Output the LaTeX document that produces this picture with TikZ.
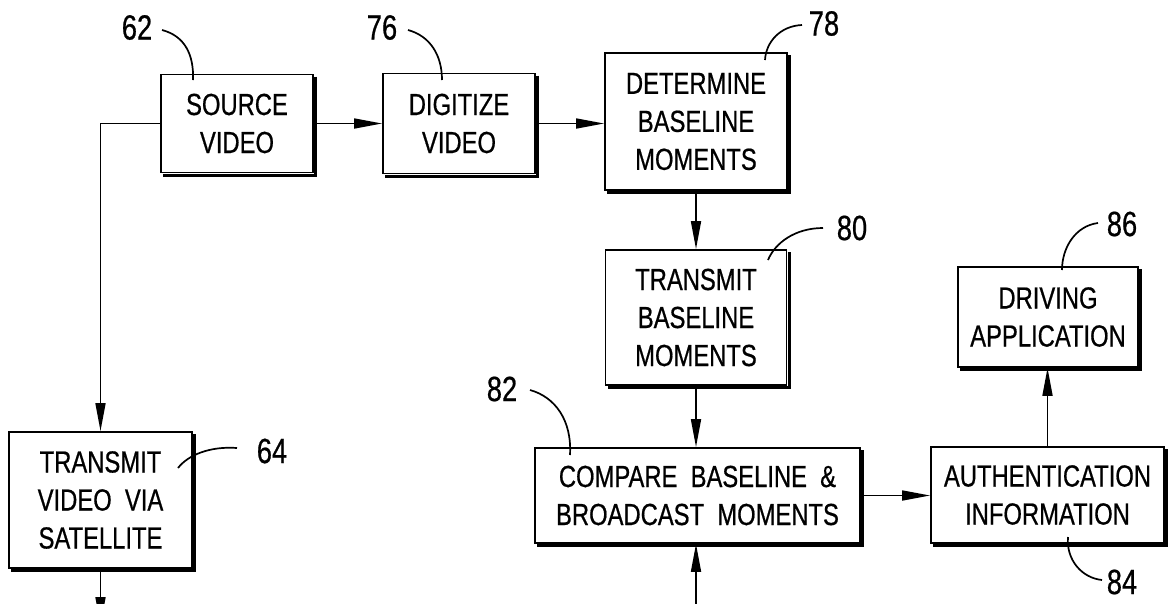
\documentclass[tikz,border=0pt]{standalone}
\usepackage{fontspec}
\setmainfont[FakeStretch=0.78,FakeBold=0.6]{Liberation Sans}
\usetikzlibrary{arrows.meta}
\tikzset{
  blk/.style={draw, fill=white, line width=1.8pt, inner sep=0pt, align=center,
    font=\fontsize{30.5}{38}\selectfont},
  arr/.style={line width=1.7pt, -{Triangle[length=28pt,width=10pt]}},
  lbl/.style={inner sep=0pt, font=\fontsize{35}{40}\selectfont},
  lead/.style={line width=1.7pt},
  shd/.style={line width=3pt}
}
\begin{document}
\begin{tikzpicture}[x=1pt,y=-1pt]
\clip (0,0) rectangle (1169,603);
\fill[white] (0,0) rectangle (1169,603);
% boxes
\node[blk, minimum width=152, minimum height=98] (src) at (237,123.5) {SOURCE\\VIDEO};
\node[blk, minimum width=152, minimum height=100] (dig) at (459,123.5) {DIGITIZE\\VIDEO};
\node[blk, minimum width=182, minimum height=137] (det) at (696,121.5) {DETERMINE\\BASELINE\\MOMENTS};
\node[blk, minimum width=181, minimum height=135] (tbm) at (696,317.5) {TRANSMIT\\BASELINE\\MOMENTS};
\node[blk, minimum width=325, minimum height=95] (cmp) at (697.5,495.5) {COMPARE\ \ BASELINE\ \ \&\\BROADCAST\ \ MOMENTS};
\node[blk, minimum width=233, minimum height=96] (auth) at (1047.5,495) {AUTHENTICATION\\INFORMATION};
\node[blk, minimum width=180, minimum height=100] (drv) at (1048,317) {DRIVING\\APPLICATION};
\node[blk, minimum width=183, minimum height=136] (tvs) at (100.5,500) {TRANSMIT\\VIDEO\ \ VIA\\SATELLITE};
% heavy right and bottom edges (shadow)
\foreach \b in {src,dig,det,tbm,cmp,auth,drv,tvs}{
  \draw[shd] ([shift={(2,3)}]\b.north east) -- ([shift={(2,2)}]\b.south east) -- ([shift={(3,2)}]\b.south west);
}
% free ends
\coordinate (tvsout) at (100.5,625);
\coordinate (cmpin) at (696,625);
% connectors
\draw[arr] (src.east) -- (src.east -| dig.west);
\draw[arr] (dig.east) -- (dig.east -| det.west);
\draw[arr] (det.south) -- (det.south |- tbm.north);
\draw[arr] (tbm.south) -- (tbm.south |- cmp.north);
\draw[arr] (cmp.east) -- (cmp.east -| auth.west);
\draw[arr] (auth.north) -- (auth.north |- drv.south);
\draw[arr] (src.west) -| (tvs.north);
\draw[arr] (tvs.south) -- (tvsout);
\draw[arr] (cmpin) -- (cmpin |- cmp.south);
% reference labels
\node[lbl] (l62) at (137,27.5) {62};
\node[lbl] (l76) at (382,27.5) {76};
\node[lbl] (l78) at (824,23.5) {78};
\node[lbl] (l80) at (852,228) {80};
\node[lbl] (l82) at (502,389) {82};
\node[lbl] (l86) at (1122,224) {86};
\node[lbl] (l84) at (1122,582) {84};
\node[lbl] (l64) at (272,451) {64};
% leader lines
\coordinate (a62) at (162,30);   \coordinate (b62) at (193,80);
\coordinate (a76) at (408,30);   \coordinate (b76) at (442,80);
\coordinate (a78) at (802,25);   \coordinate (b78) at (765,60);
\coordinate (a80) at (823,228);  \coordinate (b80) at (768,260);
\coordinate (a82) at (530,390);  \coordinate (b82) at (570,455);
\coordinate (a86) at (1098,223); \coordinate (b86) at (1062,270);
\coordinate (a84) at (1102,580); \coordinate (b84) at (1068,537);
\coordinate (a64) at (237,448);  \coordinate (b64) at (178,468);
\draw[lead] (a62) .. controls (185,36) and (194,55) .. (b62);
\draw[lead] (a76) .. controls (430,36) and (442,55) .. (b76);
\draw[lead] (a78) .. controls (780,26) and (766,42) .. (b78);
\draw[lead] (a80) .. controls (795,228) and (775,243) .. (b80);
\draw[lead] (a82) .. controls (555,397) and (572,420) .. (b82);
\draw[lead] (a86) .. controls (1075,226) and (1062,248) .. (b86);
\draw[lead] (a84) .. controls (1082,578) and (1066,560) .. (b84);
\draw[lead] (a64) .. controls (210,446) and (188,455) .. (b64);
\end{tikzpicture}
\end{document}
